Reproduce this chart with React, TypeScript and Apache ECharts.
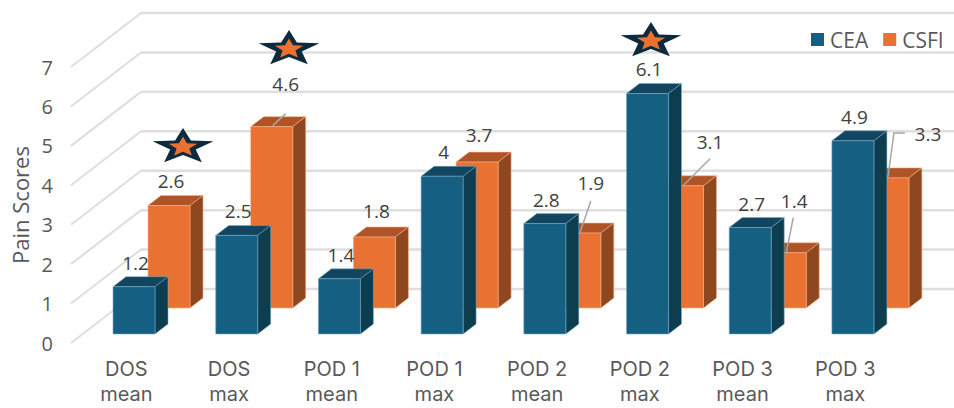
import React, { useEffect, useRef } from "react";
import * as echarts from "echarts";

const categories = [
  "DOS\nmean", "DOS\nmax", "POD 1\nmean", "POD 1\nmax",
  "POD 2\nmean", "POD 2\nmax", "POD 3\nmean", "POD 3\nmax",
];
const ceaValues = [1.2, 2.5, 1.4, 4, 2.8, 6.1, 2.7, 4.9];
const csfiValues = [2.6, 4.6, 1.8, 3.7, 1.9, 3.1, 1.4, 3.3];
const wallTicks = [0, 1, 2, 3, 4, 5, 6, 7];

const FONT = "Open Sans";
const CATEGORY_FONT = "Inter";
const FONT_SIZE = 19;
const TEXT_GREY = "#595959";
const LABEL_GREY = "#404040";

// Oblique projection of the 3D look
const WALL_DX = 70;
const WALL_DY = -54;
const BAR_W = 42;
const DEPTH_DX = 13;
const DEPTH_DY = -10;

const ceaStyle = { dx: -13.35, floor: -9, front: "#156082", top: "#124660", side: "#0c3e50", halo: "rgba(120,170,195,0.55)" };
const csfiStyle = { dx: 21.65, floor: -35, front: "#E97132", top: "#AE5426", side: "#8F4720", halo: "rgba(245,175,135,0.6)" };

// Label centre relative to the bar's top-left front corner
const ceaLabelOffsets = Array(8).fill([22.5, -24]);
const csfiLabelOffsets = [
  [23, -24.5], [35, -43], [23, -26], [23, -27],
  [32, -50], [48.5, -44], [30, -52], [61, -44],
];
// Leader lines for the labels that sit away from their bar
const csfiLeaders: (number[][] | null)[] = [
  null,
  [[22, -1], [35, -13]],
  null,
  null,
  [[21, 0], [32, -32]],
  [[21.5, 0], [48.5, -27]],
  [[22, 0], [29, -35]],
  [[21, 0], [27, -45], [38, -45]],
];

const starCentres = [[183, 147], [289, 49], [651, 41]];

function starPoints(cx: number, cy: number, rx: number, ry: number, inner: number) {
  const pts: number[][] = [];
  for (let k = 0; k < 10; k++) {
    const r = k % 2 === 0 ? 1 : inner;
    const a = -Math.PI / 2 + (k * Math.PI) / 5;
    pts.push([cx + rx * r * Math.cos(a), cy + ry * r * Math.sin(a)]);
  }
  return pts;
}

function barCorner(api: any, s: typeof ceaStyle) {
  const [cx, cy] = api.coord([api.value(0), api.value(1)]);
  return [cx + s.dx, cy + s.floor];
}

function bar3d(s: typeof ceaStyle) {
  return (_p: any, api: any) => {
    const [x, top] = barCorner(api, s);
    const bottom = api.coord([api.value(0), 0])[1] + s.floor;
    const r = x + BAR_W;
    return {
      type: "group",
      children: [
        { type: "polygon", shape: { points: [[x, top], [x + DEPTH_DX, top + DEPTH_DY], [r + DEPTH_DX, top + DEPTH_DY], [r, top]] }, style: { fill: s.top, stroke: s.halo, lineWidth: 1 } },
        { type: "polygon", shape: { points: [[r, top], [r + DEPTH_DX, top + DEPTH_DY], [r + DEPTH_DX, bottom + DEPTH_DY], [r, bottom]] }, style: { fill: s.side, stroke: s.halo, lineWidth: 1 } },
        { type: "polygon", shape: { points: [[x, top], [r, top], [r, bottom], [x, bottom]] }, style: { fill: s.front, stroke: s.halo, lineWidth: 1 } },
      ],
    };
  };
}

function valueLabels(s: typeof ceaStyle, offsets: number[][], leaders: (number[][] | null)[]) {
  return (p: any, api: any) => {
    const [x, top] = barCorner(api, s);
    const i = p.dataIndex;
    const children: any[] = [];
    const leader = leaders[i];
    if (leader) {
      children.push({
        type: "polyline",
        shape: { points: leader.map(([a, b]) => [x + a, top + b]) },
        style: { stroke: "#A6A6A6", lineWidth: 1.5, fill: "none" },
      });
    }
    children.push({
      type: "text",
      style: {
        x: x + offsets[i][0],
        y: top + offsets[i][1],
        text: String(api.value(1)),
        fill: LABEL_GREY,
        font: `${FONT_SIZE}px "${FONT}"`,
        align: "center",
        verticalAlign: "middle",
      },
    });
    return { type: "group", children };
  };
}

function walls(_p: any, api: any) {
  const y = api.coord([0, api.value(0)])[1];
  const x0 = 71;
  const stroke = "#DEDEDE";
  return {
    type: "group",
    children: [
      { type: "line", shape: { x1: x0, y1: y, x2: x0 + WALL_DX, y2: y + WALL_DY }, style: { stroke, lineWidth: 2 } },
      { type: "line", shape: { x1: x0 + WALL_DX, y1: y + WALL_DY, x2: 954, y2: y + WALL_DY }, style: { stroke, lineWidth: 2.5 } },
    ],
  };
}

function starGraphics() {
  const out: any[] = [];
  for (const [cx, cy] of starCentres) {
    out.push({ type: "polygon", z: 20, shape: { points: starPoints(cx, cy, 32, 19, 0.42) }, style: { fill: "#0E2A3D" } });
    out.push({ type: "polygon", z: 21, shape: { points: starPoints(cx, cy, 15, 10.5, 0.45) }, style: { fill: "#E97132" } });
  }
  return out;
}

const indexed = (vals: number[]) => vals.map((v, i) => [i, v]);

export default function App() {
  const ref = useRef<HTMLDivElement>(null);
  useEffect(() => {
    const chart = echarts.init(ref.current!, undefined, { renderer: "svg" });
    chart.setOption({
      animation: false,
      backgroundColor: "#FFFFFF",
      grid: { left: 75, top: 67, width: 821.6, height: 276, outerBoundsMode: "none" },
      legend: {
        data: ["CEA", "CSFI"],
        left: 811,
        top: 29,
        padding: 0,
        icon: "rect",
        itemWidth: 13,
        itemHeight: 13,
        itemGap: 15,
        textStyle: { color: TEXT_GREY, fontFamily: FONT, fontSize: 21, padding: [0, 0, 0, 1] },
      },
      xAxis: {
        type: "category",
        data: categories,
        axisLine: { show: false },
        axisTick: { show: false },
        axisLabel: { color: TEXT_GREY, fontFamily: CATEGORY_FONT, fontSize: 20, lineHeight: 25.5, margin: 13, interval: 0 },
      },
      yAxis: {
        type: "value",
        min: 0,
        max: 7,
        interval: 1,
        name: "Pain Scores",
        nameLocation: "middle",
        nameGap: 44,
        nameRotate: 90,
        nameTextStyle: { color: TEXT_GREY, fontFamily: FONT, fontSize: 22 },
        axisLine: { show: false },
        axisTick: { show: false },
        splitLine: { show: false },
        axisLabel: { color: TEXT_GREY, fontFamily: FONT, fontSize: 20, margin: 22, padding: [3, 0, 0, 0] },
      },
      graphic: starGraphics(),
      series: [
        { type: "custom", name: "walls", z: 1, data: wallTicks.map((t) => [t]), encode: { y: 0 }, renderItem: walls, silent: true },
        { type: "custom", name: "CSFI", z: 2, itemStyle: { color: "#E97132" }, data: indexed(csfiValues), encode: { x: 0, y: 1 }, renderItem: bar3d(csfiStyle) },
        { type: "custom", name: "CEA", z: 3, itemStyle: { color: "#156082" }, data: indexed(ceaValues), encode: { x: 0, y: 1 }, renderItem: bar3d(ceaStyle) },
        { type: "custom", name: "CSFI labels", z: 4, data: indexed(csfiValues), encode: { x: 0, y: 1 }, renderItem: valueLabels(csfiStyle, csfiLabelOffsets, csfiLeaders) },
        { type: "custom", name: "CEA labels", z: 4, data: indexed(ceaValues), encode: { x: 0, y: 1 }, renderItem: valueLabels(ceaStyle, ceaLabelOffsets, csfiLeaders.map(() => null)) },
      ],
    });
    return () => chart.dispose();
  }, []);
  return <div ref={ref} style={{ position: "fixed", left: 0, top: 0, width: 954, height: 408 }} />;
}
